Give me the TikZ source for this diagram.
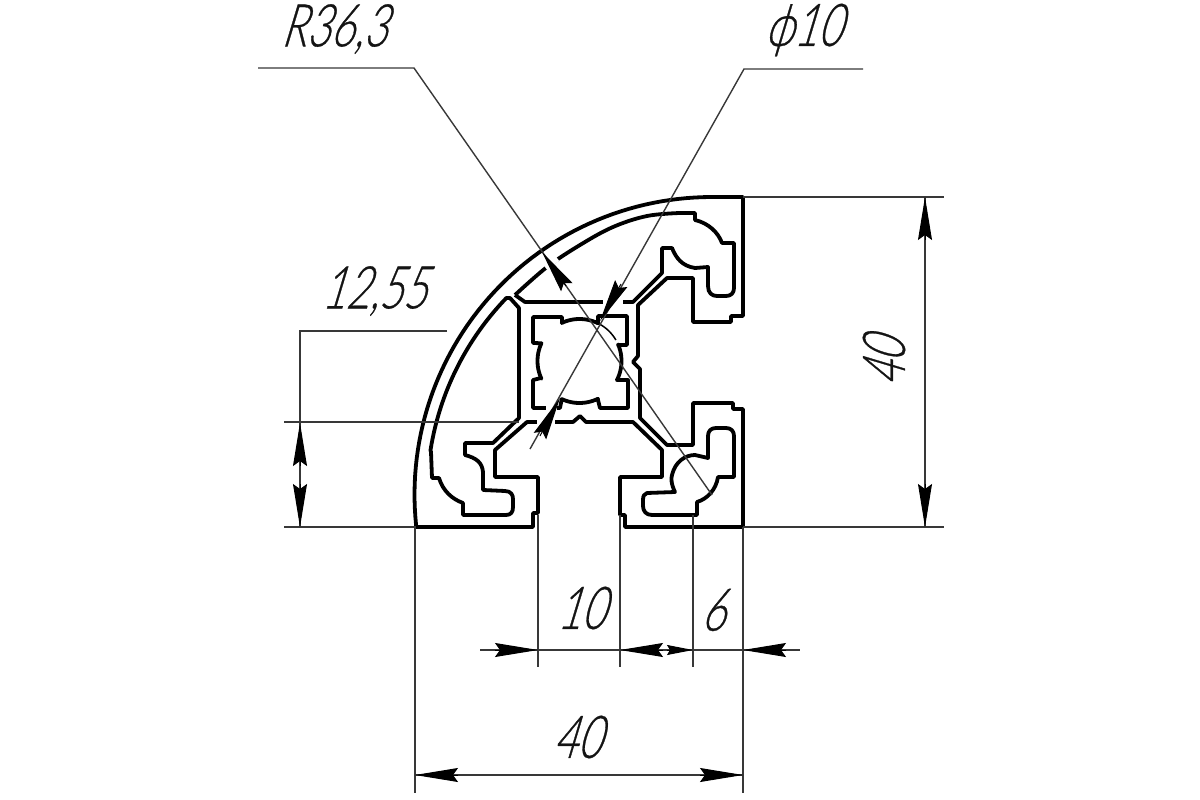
\documentclass[tikz,border=0pt]{standalone}
\usepackage{fontspec}
\usetikzlibrary{arrows.meta}
\newfontfamily\dimfont{Lato Light}[FakeSlant=0.3,FakeStretch=0.7,FakeBold=0.5]
\tikzset{
  prof/.style={line width=3.8pt,black,line join=round},
  thinline/.style={line width=1.4pt,black!78},
  halo/.style={line width=7pt,white},
  bigarrow/.style={-{Stealth[length=43pt,width=14pt,inset=5pt]},line width=1pt,black},
  smallarrow/.style={-{Stealth[length=26pt,width=10pt,inset=3pt]},line width=1pt,black},
  dimtext/.style={font=\dimfont\fontsize{59pt}{59pt}\selectfont,text=black!92,inner sep=0pt}
}
\begin{document}
\begin{tikzpicture}[x=1pt,y=-1pt]
\useasboundingbox (0,0) rectangle (1200,800);
% outer contour
\draw[prof] (416,527)
  -- plot[domain=-6:90,samples=60] ({712-297.5*cos(\x)},{494.5-297.5*sin(\x)})
  -- (743,197) -- (743,316) -- (731,316) -- (731,322) -- (693,322) -- (693,278) -- (667,278)
  -- (638,305) -- (638,356) -- (633,362) -- (640,369) -- (640,418) -- (667,445) -- (693,445)
  -- (693,403) -- (733,403) -- (733,409) -- (743,409) -- (743,527) -- (625,527) -- (625,515)
  -- (620,515) -- (620,477) -- (662,477) -- (662,450) -- (633,422) -- (586,422) -- (580,416)
  -- (573,422) -- (527,422) -- (495,450) -- (495,477) -- (538,477) -- (538,513) -- (533,513)
  -- (533,527) -- cycle;
% left crescent
\draw[prof] (510,298) -- (519,308) -- (519,418) -- (493,443) -- (465,443) -- (465,455)
  .. controls (476,458) and (482,462) .. (483,472) -- (483,490) -- (505,491)
  .. controls (511,491) and (513,495) .. (513,499) -- (513,507)
  .. controls (513,512) and (511,515) .. (506,515) -- (463,515) -- (463,503)
  .. controls (452,499) and (443,491) .. (439,478) -- (432,478) -- (431,452)
  -- plot[domain=9:44,samples=30] ({710-283*cos(\x)},{494.5-283*sin(\x)}) -- cycle;
% top crescent
\draw[prof] (515,295) -- (525,302) -- (633,302) -- (662,273) -- (662,248) -- (672,248)
  .. controls (676,258) and (682,266) .. (695,268) -- (708,267) -- (708,286)
  .. controls (708,293) and (712,296) .. (717,296) -- (726,296)
  .. controls (731,296) and (734,293) .. (734,288) -- (734,243) -- (722,243)
  .. controls (718,232) and (708,223) .. (695,220) -- (695,213) -- (680,213)
  -- plot[smooth,tension=0.6] coordinates {(680,213) (647,216) (613,227) (580,245) (547,267) (515,295)};
% lower right cavity
\draw[prof] (647,493) -- (675,492) .. controls (671,484) and (671,478) .. (672,475)
  .. controls (675,462) and (685,455) .. (695,455) -- (708,458) -- (708,436)
  .. controls (708,431) and (711,428) .. (716,428) -- (726,428)
  .. controls (731,428) and (734,431) .. (734,436) -- (734,477) -- (718,477)
  .. controls (716,490) and (707,499) .. (697,502) -- (697,515) -- (652,515)
  .. controls (646,515) and (643,511) .. (643,506) -- (643,500)
  .. controls (643,496) and (644,494) .. (647,493) -- cycle;
% central cavity
\draw[prof] (533,317) -- (562,317) -- (562,323)
  -- plot[domain=115:64,samples=16] ({579.5+42*cos(\x)},{361-42*sin(\x)})
  -- (598,316) -- (627,316) -- (627,345) -- (618,345)
  -- plot[domain=23:-27,samples=16] ({579.5+42*cos(\x)},{361-42*sin(\x)})
  -- (628,380) -- (628,408) -- (600,408) -- (598,400)
  -- plot[domain=-64:-115,samples=16] ({579.5+42*cos(\x)},{361-42*sin(\x)})
  -- (560,408) -- (533,408) -- (533,380) -- (541,378)
  -- plot[domain=205:155,samples=16] ({579.5+42*cos(\x)},{361-42*sin(\x)})
  -- (533,343) -- cycle;
\draw[line width=1.5pt,black] plot[domain=64:30,samples=10] ({579.5+42*cos(\x)},{361-42*sin(\x)});
% gaps round the arrowheads
\draw[halo] (603,302) -- (623,302);
\draw[halo] (537,422) -- (555,422);
\draw[halo] (545,267) -- (557,258);
\draw[halo] (546,408) -- (557,408);
% dimension and extension lines
\draw[thinline] (258,68) -- (414,68) -- (712,495);
\draw[thinline] (863,69) -- (744,69) -- (530,449);
\draw[thinline] (743,197) -- (944,197);
\draw[thinline] (743,527) -- (944,527);
\draw[thinline] (925,197) -- (925,527);
\draw[thinline] (284,527) -- (416,527);
\draw[thinline] (284,422) -- (519,422);
\draw[thinline] (447,331) -- (300,331) -- (300,527);
\draw[thinline] (415,527) -- (415,793);
\draw[thinline] (743,527) -- (743,793);
\draw[thinline] (538,515) -- (538,667);
\draw[thinline] (620,515) -- (620,667);
\draw[thinline] (693,515) -- (693,667);
\draw[thinline] (480,650) -- (800,650);
\draw[thinline] (415,775) -- (743,775);
% arrowheads
\draw[bigarrow] (566,286) -- (542,252);
\draw[bigarrow] (621,284) -- (600,321);
\draw[bigarrow] (540,436) -- (560,398);
\draw[bigarrow] (925,240) -- (925,197);
\draw[bigarrow] (925,484) -- (925,527);
\draw[bigarrow] (300,466) -- (300,423);
\draw[bigarrow] (300,484) -- (300,527);
\draw[bigarrow] (495,650) -- (538,650);
\draw[bigarrow] (663,650) -- (620,650);
\draw[smallarrow] (667,650) -- (693,650);
\draw[bigarrow] (786,650) -- (743,650);
\draw[bigarrow] (458,775) -- (415,775);
\draw[bigarrow] (700,775) -- (743,775);
% texts
\node[dimtext] (r) at (334,29) {R36,3};
\node[dimtext] (phi) at (803,30) {ϕ10};
\node[dimtext] (w) at (374,291) {12,55};
\node[dimtext] (h) at (884,362) [rotate=90] {40};
\node[dimtext] (a) at (581,608) {10};
\node[dimtext] (b) at (713,610) {6};
\node[dimtext] (c) at (577,737) {40};
\end{tikzpicture}
\end{document}
